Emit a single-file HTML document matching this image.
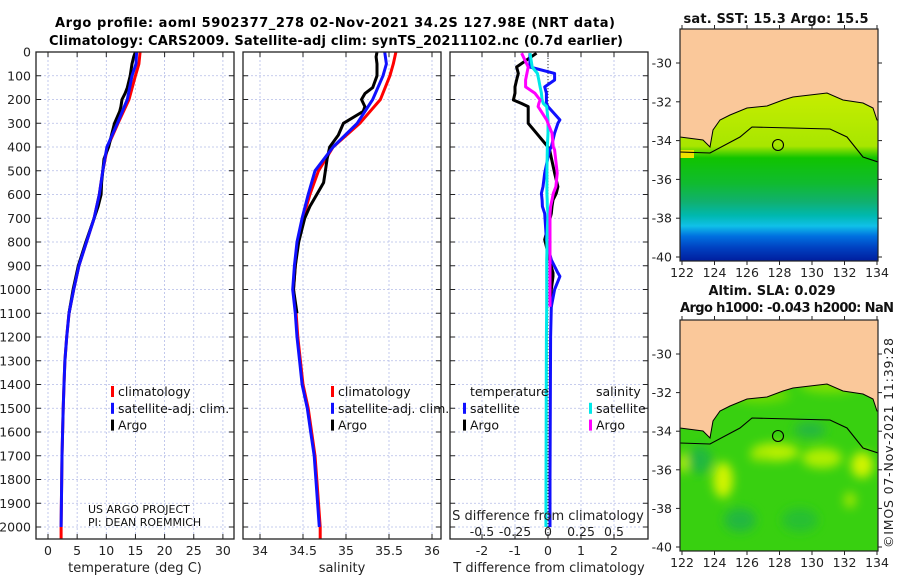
<!DOCTYPE html>
<html><head><meta charset="utf-8">
<style>
html,body{margin:0;padding:0;background:#fff;}
svg{display:block;font-family:"DejaVu Sans","Liberation Sans",sans-serif;}
</style></head>
<body>
<svg id="chart" width="900" height="580" viewBox="0 0 900 580" xmlns="http://www.w3.org/2000/svg">
<defs>
<clipPath id="c1"><rect x="36" y="52" width="198" height="487"/></clipPath>
<clipPath id="c2"><rect x="243" y="52" width="198" height="487"/></clipPath>
<clipPath id="c3"><rect x="450" y="52" width="198" height="487"/></clipPath>
<clipPath id="m1"><rect x="680" y="29" width="198" height="232"/></clipPath>
<clipPath id="m2"><rect x="680" y="320" width="198" height="231"/></clipPath>
<linearGradient id="sst" gradientUnits="userSpaceOnUse" x1="0" y1="90" x2="0" y2="260">
<stop offset="0" stop-color="#c8ee00"/>
<stop offset="0.33" stop-color="#a8e600"/>
<stop offset="0.40" stop-color="#10c400"/>
<stop offset="0.55" stop-color="#10bb30"/>
<stop offset="0.66" stop-color="#10b070"/>
<stop offset="0.74" stop-color="#00b8b0"/>
<stop offset="0.80" stop-color="#10c0e8"/>
<stop offset="0.86" stop-color="#0070e0"/>
<stop offset="0.93" stop-color="#0040c0"/>
<stop offset="1" stop-color="#0020a0"/>
</linearGradient>
<filter id="blur"><feGaussianBlur stdDeviation="5"/></filter>
</defs>
<text x="335" y="27" text-anchor="middle" font-weight="bold" font-size="13" textLength="560">Argo profile: aoml 5902377_278 02-Nov-2021 34.2S 127.98E (NRT data)</text>
<text x="336" y="45" text-anchor="middle" font-weight="bold" font-size="13" textLength="574">Climatology: CARS2009. Satellite-adj clim: synTS_20211102.nc (0.7d earlier)</text>
<g id="p1"></g>
<g id="p2"></g>
<g id="p3"></g>
<g id="maps"></g>
<text transform="translate(893,548) rotate(-90)" font-size="12.5" fill="#222" textLength="210">©IMOS 07-Nov-2021 11:39:28</text>
</svg>
<script>
// ---- data ----
const climDepth = [0,50,100,200,300,400,500,600,700,800,900,1000,1100,1200,1300,1400,1500,1600,1700,1800,1900,2000,2050];
const climTemp  = [15.8,15.6,15.0,13.9,12.0,10.2,9.4,8.8,7.9,6.6,5.3,4.4,3.6,3.2,2.9,2.75,2.6,2.5,2.4,2.35,2.3,2.25,2.25];
const satTemp   = [15.2,15.1,14.4,13.6,11.9,10.1,9.4,8.8,7.9,6.6,5.3,4.4,3.6,3.2,2.9,2.75,2.6,2.5,2.4,2.35,2.3,2.25];
const climSal   = [35.58,35.55,35.51,35.40,35.16,34.85,34.68,34.58,34.50,34.44,34.41,34.39,34.42,34.44,34.47,34.50,34.56,34.60,34.64,34.66,34.68,34.70,34.70];
const satSal    = [35.45,35.47,35.43,35.31,35.13,34.85,34.64,34.56,34.49,34.43,34.40,34.38,34.41,34.43,34.46,34.49,34.55,34.59,34.63,34.65,34.67,34.69];
const argoDepth = [0,20,50,100,150,175,200,230,250,300,350,400,450,500,550,600,650,700,800,900,1000,1100];
const argoTemp  = [15.0,14.7,14.4,14.1,13.6,13.2,12.7,12.5,12.3,11.4,10.9,10.4,9.6,9.4,9.2,9.1,8.6,7.9,6.5,5.2,4.3,3.6];
const argoSal   = [35.36,35.35,35.36,35.36,35.31,35.22,35.18,35.22,35.20,34.97,34.91,34.81,34.78,34.76,34.74,34.66,34.58,34.52,34.45,34.41,34.39,34.43];
const diffDepth = [5,63,90,118,147,173,202,217,230,286,300,342,400,412,510,567,595,623,650,680,790,847,875,930,945,1000,1073,1200,1500,1800,2000];
const argoDT    = [-0.35,-0.95,-0.9,-0.95,-1.0,-1.0,-1.05,-0.8,-0.6,-0.6,-0.6,-0.35,0.0,0.05,0.2,0.3,0.25,0.15,0.12,0.1,-0.1,0.0,0.05,0.15,0.15,0.1,0.1];
const satDT     = [-0.55,-0.55,0.2,0.2,-0.1,-0.05,-0.05,-0.05,0.0,0.36,0.3,0.2,0.1,0.05,-0.1,-0.15,-0.2,-0.18,-0.17,-0.1,-0.05,0.05,0.1,0.3,0.36,0.2,0.1,0.08,0.07,0.06,0.06];
const satDS     = [-0.136,-0.12,-0.08,-0.07,-0.06,-0.05,-0.045,-0.035,-0.01,0.0,0.0,0.0,-0.005,-0.005,-0.008,-0.008,-0.008,-0.006,-0.005,0.0,-0.008,-0.008,-0.01,-0.01,-0.01,-0.01,-0.01,-0.012,-0.014,-0.015,-0.016];
const argoDS    = [-0.2,-0.15,-0.16,-0.17,-0.17,-0.1,-0.06,-0.07,-0.075,-0.01,0.0,0.03,0.04,0.05,0.07,0.06,0.04,0.03,0.02,0.015,0.015,0.015,0.015,0.015,0.015,0.015,0.015];
const depthTicks = [0,100,200,300,400,500,600,700,800,900,1000,1100,1200,1300,1400,1500,1600,1700,1800,1900,2000];
const tempTicks = [0,5,10,15,20,25,30];
const salTicks = [34,34.5,35,35.5,36];
const dTTicks = [-2,-1,0,1,2];
const dSTicks = [-0.5,-0.25,0,0.25,0.5];
const dSTickLabels = ["-0.5","-0.25","0","0.25","0.5"];
const lonTicks = [122,124,126,128,130,132,134];
const latTicks = [-30,-32,-34,-36,-38,-40];

// ---- scales ----
const yD = d => 52 + d*0.2375;
const xT = t => 48 + t*5.83;
const xS = s => 260 + (s-34)*86;
const xdT = v => 548 + v*33;
const xdS = v => 548 + v*132;
const lonX = l => 682 + (l-122)*16.25;
const latY1 = l => 63 + (-30-l)*19.4;
const latY2 = l => 354 + (-30-l)*19.3;

const NS = "http://www.w3.org/2000/svg";
function mk(tag, attrs, parent){
  const e = document.createElementNS(NS, tag);
  for (const k in attrs) e.setAttribute(k, attrs[k]);
  parent.appendChild(e); return e;
}
function txt(parent, x, y, s, size, anchor, extra){
  const t = mk('text', Object.assign({x:x, y:y, 'font-size':size, 'text-anchor':anchor||'start', fill:'#222'}, extra||{}), parent);
  t.textContent = s; return t;
}
function line(parent, xs, ys, color, w, clip){
  const pts = xs.map((x,i)=>x.toFixed(1)+','+ys[i].toFixed(1)).join(' ');
  return mk('polyline', {points:pts, fill:'none', stroke:color, 'stroke-width':w, 'stroke-linejoin':'round', 'clip-path':clip}, parent);
}

function panel(g, x0, clipId, xTickPos, xTickLabels, xlabel, showY){
  const grid = mk('g', {}, g);
  
  
  xTickPos.forEach(x => mk('line', {x1:x, x2:x, y1:52, y2:539, stroke:'#b4bce8', 'stroke-width':0.8, 'stroke-dasharray':'2,2'}, grid));
  depthTicks.forEach(d => mk('line', {x1:x0, x2:x0+198, y1:yD(d), y2:yD(d), stroke:'#b4bce8', 'stroke-width':0.8, 'stroke-dasharray':'2,2'}, grid));
  depthTicks.forEach(d => {
    mk('line', {x1:x0, x2:x0+5, y1:yD(d), y2:yD(d), stroke:'#222'}, g);
    mk('line', {x1:x0+193, x2:x0+198, y1:yD(d), y2:yD(d), stroke:'#222'}, g);
    if (showY){
      const t = txt(g, 31, yD(d)+4.5, String(d), 12.5, 'end');
      
      
    }
  });
  xTickPos.forEach((x,i) => {
    mk('line', {x1:x, x2:x, y1:539, y2:534, stroke:'#222'}, g);
    mk('line', {x1:x, x2:x, y1:52, y2:57, stroke:'#222'}, g);
    if (xTickLabels){
      const t = txt(g, x, 555, xTickLabels[i], 12.5, 'middle');
      
      
    }
  });
  const xl = txt(g, x0+99, 572, xlabel, 13, 'middle');
  
  
}
function frame(g, x0){
  const r = mk('rect', {x:x0, y:52, width:198, height:487, fill:'none', stroke:'#222', 'stroke-width':1.3}, g);
  
  
}
function legend(g, x, y, items){
  items.forEach((it,i) => {
    if (it.c) mk('rect', {x:x-7, y:y+i*16.8-10, width:3, height:11, fill:it.c}, g);
    const t = txt(g, x, y+i*16.8, it.t, 12.5, 'start', {fill:'#111'});
    
    
  });
}

// ---- panel 1 temperature ----
const p1 = document.getElementById('p1');
panel(p1, 36, 'c1', tempTicks.map(xT), tempTicks.map(String), 'temperature (deg C)', true);
line(p1, climTemp.map(xT), climDepth.map(yD), '#ff0000', 3, 'url(#c1)');
line(p1, argoTemp.map(xT), argoDepth.map(yD), '#000000', 3, 'url(#c1)');
line(p1, satTemp.map(xT), climDepth.slice(0,satTemp.length).map(yD), '#1010ff', 3, 'url(#c1)');
legend(p1, 118, 396, [{c:'#ff0000',t:'climatology'},{c:'#1010ff',t:'satellite-adj. clim.'},{c:'#000',t:'Argo'}]);
txt(p1, 88, 513, 'US ARGO PROJECT', 11, 'start', {fill:'#111'});
txt(p1, 88, 526, 'PI: DEAN ROEMMICH', 11, 'start', {fill:'#111'});
frame(p1, 36);

// ---- panel 2 salinity ----
const p2 = document.getElementById('p2');
panel(p2, 243, 'c2', salTicks.map(xS), salTicks.map(String), 'salinity', false);
line(p2, climSal.map(xS), climDepth.map(yD), '#ff0000', 3, 'url(#c2)');
line(p2, argoSal.map(xS), argoDepth.map(yD), '#000000', 3, 'url(#c2)');
line(p2, satSal.map(xS), climDepth.slice(0,satSal.length).map(yD), '#1010ff', 3, 'url(#c2)');
legend(p2, 338, 396, [{c:'#ff0000',t:'climatology'},{c:'#1010ff',t:'satellite-adj. clim.'},{c:'#000',t:'Argo'}]);
frame(p2, 243);

// ---- panel 3 differences ----
const p3 = document.getElementById('p3');
panel(p3, 450, 'c3', dTTicks.map(xdT), dTTicks.map(String), 'T difference from climatology', false);
mk('line', {x1:548, x2:548, y1:52, y2:539, stroke:'#333', 'stroke-width':1, 'stroke-dasharray':'1,2'}, p3);
line(p3, argoDT.map(xdT), diffDepth.slice(0,argoDT.length).map(yD), '#000', 3, 'url(#c3)');
line(p3, satDT.map(xdT), diffDepth.map(yD), '#1010ff', 3, 'url(#c3)');
line(p3, satDS.map(xdS), diffDepth.map(yD), '#00e8e8', 3, 'url(#c3)');
line(p3, argoDS.map(xdS), diffDepth.slice(0,argoDS.length).map(yD), '#ff00ff', 3, 'url(#c3)');
legend(p3, 470, 396, [{t:'temperature'},{c:'#1010ff',t:'satellite'},{c:'#000',t:'Argo'}]);
legend(p3, 596, 396, [{t:'salinity'},{c:'#00e8e8',t:'satellite'},{c:'#ff00ff',t:'Argo'}]);
txt(p3, 548, 520, 'S difference from climatology', 13, 'middle');
dSTicks.forEach((v,i)=>{
  const t = txt(p3, xdS(v), 536, dSTickLabels[i], 12.5, 'middle');
  
  
});
frame(p3, 450);

// ---- maps ----
const maps = document.getElementById('maps');
const coast = [[680,137],[703,140],[710,147],[713,130],[720,120],[730,115],[747,108],[767,106],[783,100],[793,97],[827,93],[843,100],[863,103],[873,108],[877,120],[878,120]];
const contour = [[680,152],[710,153],[740,137],[752,127],[830,129],[847,137],[863,157],[878,162]];
function drawMap(dy, top, bottom, clip, latY, which){
  const g = mk('g', {'clip-path':clip}, maps);
  
  
  if (which===1){
    mk('rect', {x:680, y:top, width:198, height:bottom-top, fill:'url(#sst)'}, g);
    mk('rect', {x:680, y:150, width:14, height:8, fill:'#f0e000'}, g);
  } else {
    mk('rect', {x:680, y:top, width:198, height:bottom-top, fill:'#38d010'}, g);
    const blobs = g.appendChild(document.createElementNS(NS,'g'));
    blobs.setAttribute('filter','url(#blur)');
    [[700,380,18,8,'#80e000'],[760,395,30,8,'#70dc00'],[830,385,30,8,'#80e000'],[775,452,24,9,'#b8f000'],[822,458,20,10,'#b0ee00'],[760,456,10,5,'#a0e800'],[723,480,10,18,'#d0f400'],[862,465,11,13,'#d0f400'],[683,463,5,10,'#b8f000'],[850,500,6,8,'#a0e800'],[700,460,12,14,'#20b840'],[740,520,16,12,'#20b840'],[800,520,18,12,'#28c030'],[810,430,16,8,'#28b840']].forEach(b=>{
      mk('ellipse', {cx:b[0], cy:b[1], rx:b[2], ry:b[3], fill:b[4]}, blobs);
    });
  }
  const land = 'M680,'+(top-1)+' L878,'+(top-1)+' L878,'+(coast[coast.length-1][1]+dy)+' '+coast.slice().reverse().map(p=>'L'+p[0]+','+(p[1]+dy)).join(' ')+' Z';
  mk('path', {d:land, fill:'#fac89a', stroke:'#000', 'stroke-width':1}, g);
  mk('polyline', {points:contour.map(p=>p[0]+','+(p[1]+dy)).join(' '), fill:'none', stroke:'#000', 'stroke-width':1.1}, g);
  const c = mk('circle', {cx:778, cy:145+dy, r:5.5, fill:'none', stroke:'#000', 'stroke-width':1.1}, g);
  
  
  const fr = mk('rect', {x:680, y:top, width:198, height:bottom-top, fill:'none', stroke:'#222', 'stroke-width':1.2}, maps);
  
  
  lonTicks.forEach(l=>{
    mk('line', {x1:lonX(l), x2:lonX(l), y1:bottom, y2:bottom+4, stroke:'#222'}, maps);
    mk('line', {x1:lonX(l), x2:lonX(l), y1:top, y2:top-4, stroke:'#222'}, maps);
    const t = txt(maps, lonX(l), bottom+16, String(l), 12.5, 'middle');
    
    
  });
  latTicks.forEach(l=>{
    mk('line', {x1:680, x2:676, y1:latY(l), y2:latY(l), stroke:'#222'}, maps);
    mk('line', {x1:878, x2:882, y1:latY(l), y2:latY(l), stroke:'#222'}, maps);
    const t = txt(maps, 672, latY(l)+4.5, String(l), 12.5, 'end');
    
    
  });
}
drawMap(0, 29, 261, 'url(#m1)', latY1, 1);
drawMap(291, 320, 551, 'url(#m2)', latY2, 2);
txt(maps, 776, 23, 'sat. SST: 15.3 Argo: 15.5', 13, 'middle', {'font-weight':'bold', fill:'#111', textLength:185});
txt(maps, 772, 295, 'Altim. SLA: 0.029', 13, 'middle', {'font-weight':'bold', fill:'#111'});
txt(maps, 787, 312, 'Argo h1000: -0.043 h2000: NaN', 13, 'middle', {'font-weight':'bold', fill:'#111', textLength:214});
</script>
</body></html>
